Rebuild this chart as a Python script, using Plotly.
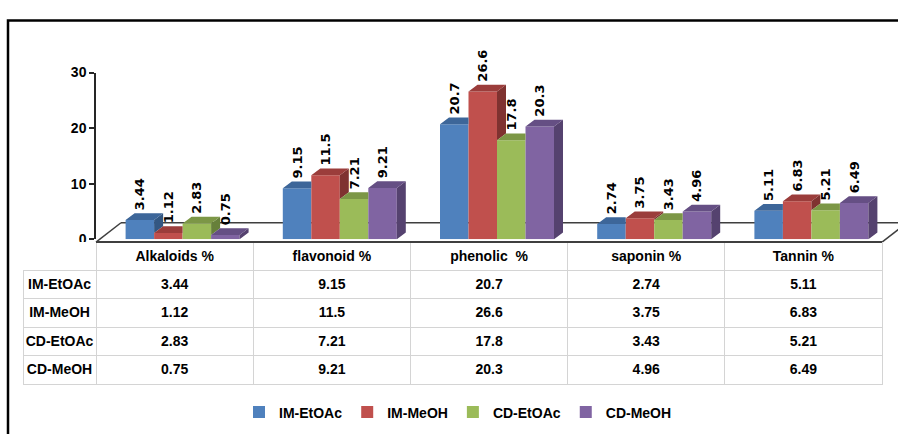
import plotly.graph_objects as go

# ---------------- data ----------------
categories = ["Alkaloids %", "flavonoid %", "phenolic  %", "saponin %", "Tannin %"]
series_names = ["IM-EtOAc", "IM-MeOH", "CD-EtOAc", "CD-MeOH"]
im_etoac = [3.44, 9.15, 20.7, 2.74, 5.11]
im_meoh = [1.12, 11.5, 26.6, 3.75, 6.83]
cd_etoac = [2.83, 7.21, 17.8, 3.43, 5.21]
cd_meoh = [0.75, 9.21, 20.3, 4.96, 6.49]
y_ticks = [0, 10, 20, 30]

series_values = [im_etoac, im_meoh, cd_etoac, cd_meoh]
front_colors = ["#4F81BD", "#C0504D", "#9BBB59", "#8064A2"]
top_colors = ["#3D6699", "#9B3D3B", "#7C9746", "#654F84"]
side_colors = ["#335782", "#7F3230", "#67803A", "#55426F"]

# ---------------- geometry (pixels) ----------------
W, H = 898, 434
PX_L, PX_R = 96, 882          # plot area left/right
PY_0, PY_30 = 240, 67         # pixel rows of y=0 and y=30
X_RANGE = [-0.5, len(categories) - 0.5]
Y_RANGE = [0, 30]
ppx = (PX_R - PX_L) / (X_RANGE[1] - X_RANGE[0])
ppy = (PY_0 - PY_30) / (Y_RANGE[1] - Y_RANGE[0])
BAR_W = 28.5 / ppx
SHIFT = 8 / ppx
DX = 9 / ppx
DY = 7 / ppy

FONT_TXT = "Liberation Sans, Arial, sans-serif"
FONT_LBL = "DejaVu Sans, Verdana, sans-serif"


def px(x):
    return x / W


def py(y):
    return 1 - y / H


fig = go.Figure()

n_ser = len(series_values)
offsets = [SHIFT - n_ser / 2 * BAR_W + i * BAR_W for i in range(n_ser)]
positions = list(range(len(categories)))

# front faces (real bars)
for i, (name, vals) in enumerate(zip(series_names, series_values)):
    fig.add_trace(go.Bar(
        x=positions, y=vals, name=name, offset=offsets[i], width=BAR_W,
        marker=dict(color=front_colors[i], line=dict(width=0)),
        hoverinfo="skip",
    ))

# 3D top and side faces, derived from the same values
for i, vals in enumerate(series_values):
    tx, ty, sx, sy = [], [], [], []
    for j, v in enumerate(vals):
        xl = positions[j] + offsets[i]
        xr = xl + BAR_W
        nxt = series_values[i + 1][j] if i + 1 < n_ser else None
        # top face
        if nxt is not None and nxt > v:
            tx += [xl, xr, xr, xl + DX, xl, None]
            ty += [v, v, v + DY, v + DY, v, None]
        else:
            tx += [xl, xr, xr + DX, xl + DX, xl, None]
            ty += [v, v, v + DY, v + DY, v, None]
        # side face (visible part only)
        h0 = 0 if nxt is None else nxt
        if h0 < v:
            sx += [xr, xr, xr + DX, xr + DX, xr, None]
            sy += [h0, v, v + DY, h0 + DY, h0, None]
    fig.add_trace(go.Scatter(x=sx, y=sy, mode="lines", fill="toself",
                             fillcolor=side_colors[i], line=dict(width=0),
                             hoverinfo="skip", showlegend=False))
    fig.add_trace(go.Scatter(x=tx, y=ty, mode="lines", fill="toself",
                             fillcolor=top_colors[i], line=dict(width=0),
                             hoverinfo="skip", showlegend=False))

# value labels (invisible bars reaching the top of the 3D face)
for i, vals in enumerate(series_values):
    fig.add_trace(go.Bar(
        x=positions, y=[v + DY for v in vals], offset=offsets[i], width=BAR_W,
        marker=dict(color="rgba(0,0,0,0)", line=dict(width=0)),
        text=[str(v) for v in vals], textposition="outside", textangle=-90,
        constraintext="none", cliponaxis=False,
        textfont=dict(family=FONT_LBL, size=13, color="black", weight="bold"),
        hoverinfo="skip", showlegend=False,
    ))

# data table
grid = "#D4D4D4"
table_cols = [series_names] + [[str(s[j]) for s in series_values] for j in range(len(categories))]
fig.add_trace(go.Table(
    domain=dict(x=[px(23), px(882)], y=[py(392), py(243)]),
    columnwidth=[73] + [157] * len(categories),
    header=dict(
        values=[""] + categories, height=28,
        line=dict(color=["rgba(0,0,0,0)"] + [grid] * len(categories), width=1),
        fill=dict(color="white"), align="center",
        font=dict(family=FONT_TXT, size=14, color="black", weight="bold"),
    ),
    cells=dict(
        values=table_cols, height=28.5,
        line=dict(color=grid, width=1), fill=dict(color="white"),
        align="center",
        font=dict(family=FONT_TXT, size=14, color="black", weight="bold"),
    ),
))

# floor outline and outer frame
line_dark = "#3F3F3F"
shapes = [
    dict(type="line", xref="paper", yref="paper", layer="below",
         x0=px(121), y0=py(223), x1=px(907), y1=py(223), line=dict(color=line_dark, width=1.5)),
    dict(type="line", xref="paper", yref="paper", layer="below",
         x0=px(96), y0=py(243), x1=px(121), y1=py(223), line=dict(color=line_dark, width=1.5)),
    dict(type="line", xref="paper", yref="paper", layer="below",
         x0=px(882), y0=py(243), x1=px(907), y1=py(223), line=dict(color=line_dark, width=1.5)),
    dict(type="line", xref="paper", yref="paper", layer="above",
         x0=px(96), y0=py(243), x1=px(882), y1=py(243), line=dict(color=line_dark, width=2)),
    dict(type="rect", xref="paper", yref="paper", layer="above",
         x0=px(8), y0=-0.05, x1=1.05, y1=py(13), line=dict(color="black", width=2.5)),
]

fig.update_layout(
    width=W, height=H, margin=dict(l=0, r=0, t=0, b=0),
    paper_bgcolor="white", plot_bgcolor="rgba(0,0,0,0)",
    barmode="overlay", shapes=shapes,
    xaxis=dict(domain=[px(PX_L), px(PX_R)], range=X_RANGE, showticklabels=False,
               showgrid=False, zeroline=False, showline=False, ticks=""),
    yaxis=dict(domain=[py(PY_0), py(PY_30)], range=Y_RANGE, tickvals=y_ticks,
               showgrid=False, zeroline=False, showline=True, linecolor="#262626",
               linewidth=1.5, ticks="outside", ticklen=5, tickcolor="#262626",
               tickwidth=1.5,
               tickfont=dict(family=FONT_TXT, size=14, color="black", weight="bold")),
    legend=dict(orientation="h", x=px(458), xanchor="center", y=py(420), yanchor="middle",
                font=dict(family=FONT_TXT, size=14, color="black", weight="bold"),
                itemwidth=30, bgcolor="rgba(0,0,0,0)"),
    showlegend=True,
)

fig.write_html("out.html", config={"displayModeBar": False},
               post_script="document.body.style.margin='0px';")
